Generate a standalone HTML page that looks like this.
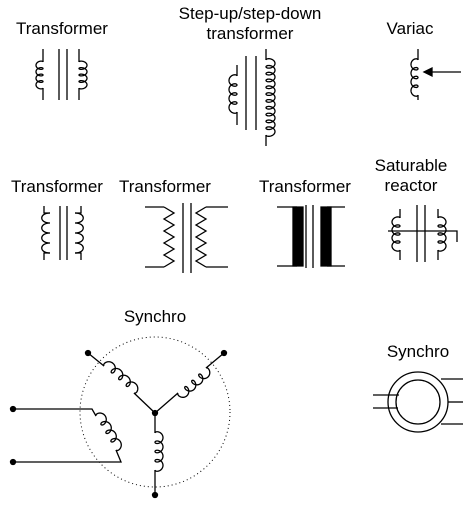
<!DOCTYPE html>
<html><head><meta charset="utf-8"><style>
html,body{margin:0;padding:0;background:#fff;}
svg{display:block;}
text{font-family:"Liberation Sans",sans-serif;font-size:17px;fill:#000;text-anchor:middle;}
.w{stroke:#000;stroke-width:1.3;fill:none;}
</style></head><body>
<svg id="s" width="470" height="507" viewBox="0 0 470 507">
<text x="62" y="34">Transformer</text>
<text x="250" y="19">Step-up/step-down</text>
<text x="250" y="39">transformer</text>
<text x="410" y="34">Variac</text>
<text x="57" y="192">Transformer</text>
<text x="165" y="192">Transformer</text>
<text x="305" y="192">Transformer</text>
<text x="411" y="171">Saturable</text>
<text x="411" y="191">reactor</text>
<text x="155" y="322">Synchro</text>
<text x="418" y="357">Synchro</text>
<g id="g" class="w"></g>
<circle cx="155" cy="412" r="75" fill="none" stroke="#000" stroke-width="1" stroke-dasharray="1,3"/>
<circle cx="418" cy="402" r="30" class="w"/>
<circle cx="418" cy="402" r="22" class="w"/>
</svg>
<script>
var g=document.getElementById('g');
function P(d,name){var e=document.createElementNS('http://www.w3.org/2000/svg','path');e.setAttribute('d',d);


g.appendChild(e);return e;}
function L(pts,name){P('M'+pts.map(function(p){return p[0]+','+p[1];}).join(' L'),name);}
function dot(x,y,name){var e=document.createElementNS('http://www.w3.org/2000/svg','circle');e.setAttribute('cx',x);e.setAttribute('cy',y);e.setAttribute('r',2.5);e.setAttribute('fill','#000');


g.appendChild(e);}
function coil(x0,y0,x1,y1,n,h,k,name){var dx=x1-x0,dy=y1-y0,len=Math.hypot(dx,dy),ux=dx/len,uy=dy/len,px=-uy,py=ux;
var pitch=len/n,r=pitch/(2*Math.PI)*k,pts=[],N=n*40;
for(var i=0;i<=N;i++){var u=2*Math.PI*n*i/N;var a=len*i/N-r*Math.sin(u);var b=h*(1-Math.cos(u))/2;
pts.push([(x0+ux*a+px*b).toFixed(2),(y0+uy*a+py*b).toFixed(2)]);}L(pts,name);}
function bumps(x,y0,y1,n,h,name){var d='M'+x+','+y0,s=(y1-y0)/n;for(var i=0;i<n;i++){d+=' C'+(x-h)+','+(y0+i*s)+' '+(x-h)+','+(y0+(i+1)*s)+' '+x+','+(y0+(i+1)*s);}P(d,name);}
function zig(x,y0,y1,n,h,name){var pts=[[x,y0]];var s=(y1-y0)/(2*n);for(var i=1;i<=2*n;i++)pts.push([i%2?x+h:x,y0+i*s]);L(pts,name);}
L([[43,49],[43,62]],'t1-lead');L([[43,88],[43,100]],'t1-lead');coil(43,62,43,88,4,7,2.2,'t1-primary-coil');
L([[59,49],[59,100]],'t1-core');L([[67,49],[67,100]],'t1-core');
L([[79,49],[79,62]],'t1-lead');L([[79,88],[79,100]],'t1-lead');coil(79,62,79,88,4,-8,2.2,'t1-secondary-coil');
L([[237,65],[237,76]],'su-lead');L([[237,112],[237,125]],'su-lead');coil(237,76,237,112,4,8,2.2,'su-primary-coil');
L([[246,56],[246,130]],'su-core');L([[256,56],[256,130]],'su-core');
L([[266,49],[266,60]],'su-lead');L([[266,135],[266,146]],'su-lead');coil(266,60,266,135,11,-9,2.6,'su-secondary-coil');
L([[418,49],[418,60]],'variac-lead');L([[418,95],[418,100]],'variac-lead');coil(418,60,418,95,4,7,2.2,'variac-coil');
L([[461,72],[428,72]],'variac-wiper');P('M424,72 L432,68 L432,76 Z','variac-arrowhead').setAttribute('fill','#000');
L([[44,206],[44,213],[50,213]],'t2-lead');L([[50,253],[44,253],[44,260]],'t2-lead');bumps(50,213,253,4,11,'t2-primary-coil');
L([[60,206],[60,260]],'t2-core');L([[67,206],[67,260]],'t2-core');
L([[81,206],[81,213],[75,213]],'t2-lead');L([[75,253],[81,253],[81,260]],'t2-lead');bumps(75,213,253,4,-11,'t2-secondary-coil');
L([[145,207],[164,207]],'t3-lead');L([[145,267],[164,267]],'t3-lead');zig(164,207,267,5,10,'t3-primary-zigzag');
L([[183,203],[183,273]],'t3-core');L([[191,203],[191,273]],'t3-core');
L([[228,207],[206,207]],'t3-lead');L([[228,267],[206,267]],'t3-lead');zig(206,207,267,5,-10,'t3-secondary-zigzag');
L([[277,207],[297,207]],'t4-lead');L([[277,266],[297,266]],'t4-lead');
L([[306,205],[306,268]],'t4-core');L([[313,205],[313,268]],'t4-core');
L([[327,207],[345,207]],'t4-lead');L([[327,266],[345,266]],'t4-lead');
P('M293,207 h10 v59 h-10 Z','t4-primary-block').setAttribute('fill','#000');
P('M321,207 h10 v59 h-10 Z','t4-secondary-block').setAttribute('fill','#000');
L([[400,209],[400,218]],'sr-lead');L([[400,250],[400,260]],'sr-lead');coil(400,218,400,250,4,8,2.2,'sr-left-coil');
L([[417,205],[417,262]],'sr-core');L([[425,205],[425,262]],'sr-core');
L([[438,209],[438,218]],'sr-lead');L([[438,250],[438,260]],'sr-lead');coil(438,218,438,250,4,-8,2.2,'sr-right-coil');
L([[388,231],[457,231],[457,242]],'sr-control-winding');
dot(155,413,'synchro-neutral');dot(88,353,'synchro-terminal');dot(224,353,'synchro-terminal');dot(155,495,'synchro-terminal');dot(13,409,'synchro-terminal');dot(13,462,'synchro-terminal');
L([[88,353],[104,366]],'synchro-lead');coil(104,366,134,393,4,-8,2.2,'synchro-coil-a');L([[134,393],[155,413]],'synchro-lead');
L([[224,353],[206,368]],'synchro-lead');coil(206,368,178,393,4,-8,2.2,'synchro-coil-b');L([[178,393],[155,413]],'synchro-lead');
L([[155,413],[155,433]],'synchro-lead');coil(155,433,155,470,4,-8,2.2,'synchro-coil-c');L([[155,470],[155,495]],'synchro-lead');
L([[13,409],[92,409],[96,416]],'rotor-lead');coil(96,416,116,450,4,-8,2.2,'rotor-coil');L([[116,450],[121,462],[13,462]],'rotor-lead');
L([[373,395],[399,395]],'small-synchro-lead');L([[373,408],[398,408]],'small-synchro-lead');
L([[441,379],[463,379]],'small-synchro-lead');L([[448,402],[463,402]],'small-synchro-lead');L([[441,424],[463,424]],'small-synchro-lead');
</script>
</body></html>
